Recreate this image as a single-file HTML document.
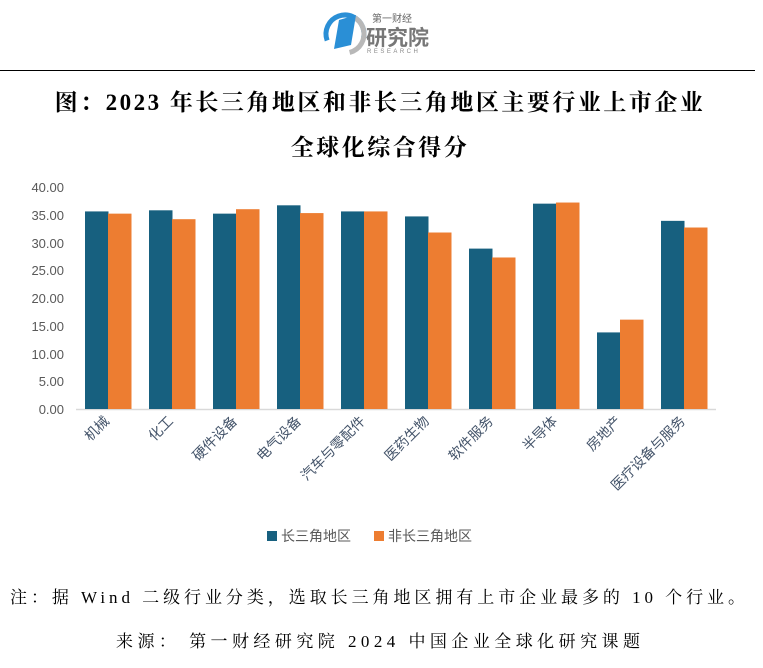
<!DOCTYPE html>
<html><head><meta charset="utf-8"><style>
body{margin:0;background:#fff;width:763px;height:668px;overflow:hidden}
svg{display:block}
</style></head><body>
<svg width="763" height="668" xmlns="http://www.w3.org/2000/svg" font-family="'Liberation Sans','Noto Sans CJK SC',sans-serif">
<circle cx="345" cy="34" r="19" fill="none" stroke="#2a8fd6" stroke-width="5" stroke-dasharray="70 50" transform="rotate(160 345 34)"/>
<circle cx="345" cy="34" r="19" fill="none" stroke="#b8b8b8" stroke-width="5" stroke-dasharray="45 75" transform="rotate(300 345 34)"/>
<polygon points="339,20 356,15 351,45 334,49" fill="#2a8fd6"/>
<text x="372" y="22" font-size="10" fill="#666">第一财经</text>
<text x="366" y="45" font-size="21" fill="#777" font-weight="bold">研究院</text>
<text x="367" y="53" font-size="6" fill="#888" letter-spacing="2.5">RESEARCH</text>
<line x1="0" y1="70.5" x2="755" y2="70.5" stroke="#000" stroke-width="1"/>
<g font-family="'Liberation Serif','Noto Serif CJK SC',serif" font-weight="bold" font-size="23" letter-spacing="2.5" text-anchor="middle" fill="#000">
<text x="380" y="110">图：2023 年长三角地区和非长三角地区主要行业上市企业</text>
<text x="380" y="155">全球化综合得分</text>
</g>
<g font-size="13" fill="#595959" text-anchor="end">
<text x="64" y="192">40.00</text><text x="64" y="220">35.00</text><text x="64" y="248">30.00</text><text x="64" y="275">25.00</text><text x="64" y="303">20.00</text><text x="64" y="331">15.00</text><text x="64" y="359">10.00</text><text x="64" y="386">5.00</text><text x="64" y="414">0.00</text>
</g>
<line x1="76" y1="409.5" x2="716" y2="409.5" stroke="#d9d9d9" stroke-width="1.5"/>
<g id="bars"></g>
<g font-size="14" fill="#44546a" id="labels"></g>
<rect x="267" y="531" width="10" height="10" fill="#17607f"/>
<text x="281" y="541" font-size="14" fill="#595959">长三角地区</text>
<rect x="374" y="531" width="10" height="10" fill="#ed7d31"/>
<text x="388" y="541" font-size="14" fill="#595959">非长三角地区</text>
<g font-family="'Liberation Serif','Noto Serif CJK SC',serif" font-size="17" fill="#000">
<text x="10" y="603" textLength="735" lengthAdjust="spacing">注：据 Wind 二级行业分类，选取长三角地区拥有上市企业最多的 10 个行业。</text>
<text x="116" y="647" textLength="524" lengthAdjust="spacing">来源：  第一财经研究院 2024 中国企业全球化研究课题</text>
</g>
<script>
var d=[["机械",35.6,35.2],["化工",35.8,34.2],["硬件设备",35.2,36.0],["电气设备",36.7,35.3],["汽车与零配件",35.6,35.6],["医药生物",34.7,31.8],["软件服务",28.9,27.3],["半导体",37.0,37.2],["房地产",13.8,16.1],["医疗设备与服务",33.9,32.7]];
var ns="http://www.w3.org/2000/svg",b=document.getElementById("bars"),l=document.getElementById("labels");
d.forEach(function(r,i){var c=108+i*64;
[[r[1],c-23,"#17607f"],[r[2],c,"#ed7d31"]].forEach(function(v){var h=v[0]*5.55;var e=document.createElementNS(ns,"rect");e.setAttribute("x",v[1]);e.setAttribute("y",409-h);e.setAttribute("width",23.5);e.setAttribute("height",h);e.setAttribute("fill",v[2]);b.appendChild(e);});
var t=document.createElementNS(ns,"text");t.setAttribute("text-anchor","end");t.setAttribute("transform","translate("+(c+2)+",422) rotate(-45)");t.textContent=r[0];l.appendChild(t);});
</script>
</svg>
</body></html>
